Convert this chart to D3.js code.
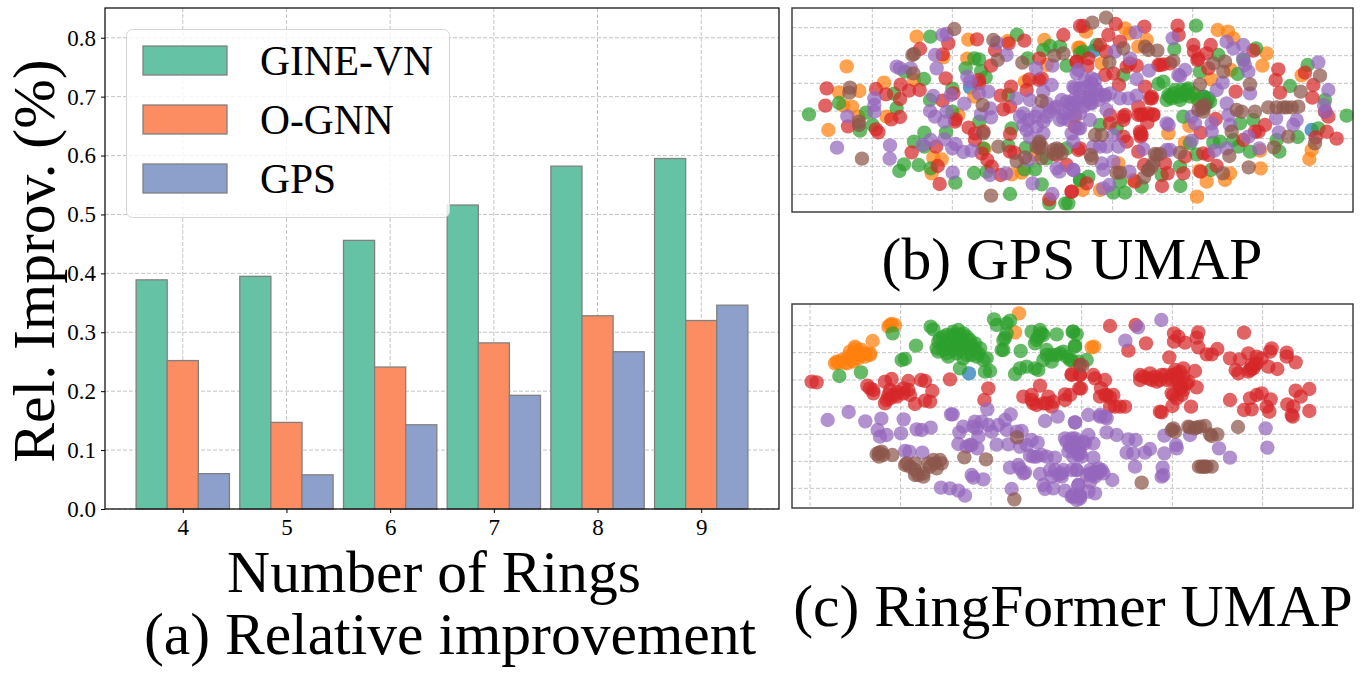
<!DOCTYPE html>
<html><head><meta charset="utf-8">
<script src="https://cdn.jsdelivr.net/npm/d3@7/dist/d3.min.js"></script>
<style>html,body{margin:0;padding:0;background:#fff}svg{display:block}text{font-family:"Liberation Serif",serif;fill:#000}</style>
</head><body><svg id="c" width="1362" height="674"></svg>
<script>
const rings=[4,5,6,7,8,9];
const gineVN=[.389,.395,.456,.516,.582,.595];
const oGNN=[.252,.147,.241,.282,.328,.320];
const gps=[.060,.058,.143,.193,.267,.346];
const seriesNames=["GINE-VN","O-GNN","GPS"];
const barColors=["#66c2a5","#fc8d62","#8da0cb"];
const yTicks=[0,.1,.2,.3,.4,.5,.6,.7,.8];
const classColors=["#1f77b4","#ff7f0e","#2ca02c","#d62728","#9467bd","#8c564b"];

// UMAP (b) GPS, embedding read-off units
const bBlue=[[540,262],[910,153],[1242,290],[1565,390]];
const bOrange=[[380,110],[535,119],[170,199],[147,277],[208,273],[282,248],[186,320],[160,317],[115,390],[290,350],[205,350],[460,172],[532,176],[372,240],[653,123],[763,120],[865,143],[705,245],[553,290],[505,345],[855,350],[430,473],[455,478],[425,520],[665,523],[695,518],[583,447],[735,465],[770,195],
[888,95],[870,143],[935,190],[1005,85],[1070,120],[1045,140],[1020,100],[1283,90],[1314,95],[1330,115],[1263,238],[1430,160],[1417,197],[1535,226],[1323,210],[1185,428],[1135,400],[1198,378],[1220,295],[1565,450],[1558,477],[1410,452],[1412,505],[1320,520],[1305,540],[1250,545],[1228,512],[1030,540],[930,570],[878,570],[1221,590],[985,490]];
const bGreen=[[421,110],[681,104],[57,343],[147,309],[210,392],[228,338],[248,375],[312,281],[320,324],[345,215],[402,237],[420,300],[487,266],[487,335],[403,398],[372,425],[403,440],[468,397],[342,493],[328,513],[386,495],[422,505],[496,548],[552,519],[590,515],[660,582],[755,553],[778,610],[826,610],[568,365],[527,205],[553,175],[567,178],[573,213],[587,232],[665,385],[655,437],[708,443],[735,508],[703,508],[780,138],[760,150],[810,140],[713,175],[830,197],[655,285],[870,540],[580,445],[770,475],[830,445],[870,160],
[1218,77],[1153,147],[920,135],[880,155],[1000,225],[1105,252],[1120,245],[1230,215],[1285,165],[1398,145],[1360,180],[1343,222],[1140,290],[1155,270],[1180,280],[1190,270],[1210,280],[1260,305],[1180,350],[1350,370],[1390,360],[1330,420],[1345,440],[1380,455],[1290,425],[1270,428],[1220,463],[1170,500],[1263,510],[1200,430],[1500,258],[1553,195],[1605,300],[1585,385],[1523,411],[1468,455],[1460,420],[1670,347],[930,375],[980,385],[870,540],[895,530],[970,578],[1005,578],[1055,560],[990,545],[1115,525],[1171,558],[900,290],[835,610],
[1130,300],[1145,295],[1150,280],[1165,290],[1175,270],[1185,285],[1195,265],[1200,290],[1225,300],[1240,290],[1250,310],[1255,295],[1135,285],[1170,300]];
const bRed=[[110,265],[106,317],[174,379],[258,267],[288,283],[330,297],[332,254],[357,272],[389,270],[265,397],[258,388],[304,358],[330,351],[390,147],[458,163],[475,130],[561,118],[467,235],[567,240],[567,250],[603,197],[656,130],[703,122],[820,105],[615,150],[663,260],[710,270],[718,238],[748,240],[755,235],[748,175],[632,287],[640,328],[660,320],[458,302],[490,280],[497,358],[495,365],[536,383],[555,400],[580,395],[660,402],[365,457],[438,440],[443,498],[449,552],[555,420],[575,460],[592,480],[605,500],[632,525],[660,455],[673,458],[845,575],[778,598],[800,465],[830,495],[865,450],[860,185],[870,78],
[880,78],[977,72],[955,105],[1063,80],[1163,77],[1166,105],[990,125],[930,135],[948,155],[895,175],[860,185],[892,198],[970,220],[945,225],[1020,190],[1040,197],[1105,195],[1120,193],[1065,260],[1085,290],[1080,295],[987,255],[1045,320],[1052,343],[1072,368],[1090,343],[1000,350],[960,370],[960,345],[855,380],[870,445],[1052,400],[1052,410],[1045,455],[1062,495],[1125,490],[1133,520],[1185,470],[1180,520],[1116,558],[1035,545],[890,550],[845,575],[1000,410],[1010,425],[1210,135],[1262,135],[1250,160],[1212,155],[1222,180],[1255,205],[1140,190],[1337,275],[1470,278],[1465,208],[1457,240],[1545,218],[1570,255],[1567,293],[1615,350],[1605,335],[1425,375],[1405,395],[1360,420],[1232,398],[1277,357],[1240,460],[1255,465],[1232,515],[1280,498],[1390,152],[1610,395],[1640,416],[1577,412],
[1045,345],[1060,345],[1075,340],[1090,345],[1085,295],[1000,360],[1005,345],[1055,405],[1050,395],[1010,200],[1110,195],[1225,175],[1395,395]];
const bPurple=[[457,105],[470,102],[320,200],[330,205],[362,205],[435,165],[440,205],[253,295],[253,315],[253,335],[172,349],[430,288],[482,285],[523,311],[532,230],[540,245],[595,275],[567,280],[420,333],[435,350],[463,365],[470,335],[573,343],[600,325],[603,352],[650,165],[620,128],[738,205],[787,197],[785,255],[760,275],[680,295],[720,300],[690,350],[700,375],[735,350],[760,365],[790,325],[830,305],[850,320],[810,360],[870,340],[825,340],[845,400],[850,425],[760,400],[720,412],[865,210],[855,265],[300,436],[299,476],[141,443],[398,435],[422,420],[463,418],[487,445],[497,432],[520,456],[545,452],[488,518],[600,525],[648,520],[728,550],[787,582],[800,505],[808,515],[850,510],[715,480],[865,385],
[1037,97],[1148,115],[975,155],[1020,175],[860,220],[905,235],[885,240],[1040,237],[1077,212],[1185,210],[1170,228],[1165,225],[1298,248],[1280,270],[1310,310],[1315,345],[1320,375],[1265,370],[1265,395],[1360,135],[1310,125],[1330,145],[1360,175],[1365,195],[1375,215],[1380,280],[1520,360],[1510,375],[1458,355],[1467,397],[1585,187],[1615,270],[1602,315],[1607,335],[1130,370],[1136,375],[1205,422],[1205,350],[1215,370],[1273,452],[1310,445],[1375,410],[1408,445],[1060,447],[1130,450],[1140,450],[870,385],[900,360],[950,330],[900,310],[945,285],[990,295],[1040,287],[1015,295],[850,260],[870,265],[840,310],[900,300],[915,240],[970,405],[930,440],[950,440],[985,440],[910,440],[935,490],[940,510],[970,485],[850,510],[958,555],[940,565],[1018,515],
[700,340],[715,360],[745,335],[770,350],[780,335],[800,320],[815,300],[840,330],[860,305],[880,300],[890,260],[905,250],[920,270],[930,285],[945,290],[960,280],[880,320],[895,300],[850,300],[835,360],[870,290],[900,275],[925,300],[855,345],[710,390],[740,380],[770,310],[820,355],[905,310],[915,265]];
const bBrown=[[493,87],[610,120],[372,162],[367,165],[370,220],[180,263],[178,278],[207,365],[207,375],[216,476],[578,315],[580,400],[625,440],[623,180],[697,188],[755,303],[793,167],[820,160],[603,587],[680,484],[748,432],[748,445],[755,475],[790,450],[808,450],[705,472],
[907,68],[948,53],[1000,145],[1065,140],[1102,152],[1075,150],[958,187],[1150,183],[1270,190],[1305,185],[1300,215],[1230,253],[1380,253],[1532,275],[1590,227],[1240,325],[1340,330],[1355,335],[1395,335],[1435,322],[1460,322],[1490,322],[1525,320],[1480,322],[1505,322],[1325,395],[1452,442],[1495,410],[1575,430],[1318,468],[1376,502],[1299,520],[915,405],[935,405],[905,475],[902,465],[1095,462],[1110,462],[1170,458],[1085,500],[1075,510],[1062,532],[990,518],[980,518],
[1225,330],[1245,315],[1235,320],[1240,335],[1075,510],[1090,490],[1100,465],[748,425],[755,440],[740,440],[800,445],[815,460],[790,462]];

// UMAP (c) RingFormer
const cBlue=[[537,220]];
const cOrange=[[687,40],[675,97],[248,123],[300,75],[315,75],[195,145],[215,150],[240,165],[145,188],[165,188],[185,180],[205,175],[225,170],[175,170],[190,160],[905,142],[912,140],
[140,185],[155,180],[170,190],[190,185],[210,165],[225,160],[195,140],[180,155],[240,160],[205,155],[135,190],[305,72],[295,80]];
const cGreen=[[422,80],[430,88],[612,58],[660,62],[650,70],[308,100],[378,137],[335,180],[345,177],[148,228],[213,217],[490,105],[510,105],[530,110],[470,105],[450,115],[440,145],[460,150],[480,130],[500,135],[520,135],[545,135],[570,145],[470,160],[500,160],[530,165],[560,170],[580,180],[510,205],[585,215],[600,213],[645,113],[640,150],[692,153],[675,222],[690,205],[710,200],[735,205],[745,210],[725,95],[750,90],[760,105],[740,120],[800,103],[848,95],[735,130],[855,140],[770,165],[800,165],[820,155],[840,180],[785,185],[620,75],[555,150],[850,95],[860,103],[855,137],[845,180],[865,185],[890,180],
[445,125],[460,110],[475,120],[490,95],[505,90],[520,100],[540,120],[555,130],[465,135],[495,115],[515,120],[535,145],[490,150],[510,150],[445,155],[475,170],[520,175],[545,165],[565,160],[590,175],[770,150],[785,165],[810,160],[830,170],[760,180],[755,100],[745,110],[640,120],[635,150],[650,100]];
const cRed=[[65,245],[80,247],[232,257],[250,270],[240,265],[285,245],[305,237],[355,243],[393,240],[405,243],[427,273],[355,270],[340,280],[320,275],[295,285],[285,310],[300,295],[375,312],[405,302],[420,305],[480,238],[595,265],[583,300],[750,257],[725,285],[700,290],[775,290],[790,305],[730,310],[760,310],[825,283],[825,300],[785,320],[845,225],[870,225],[868,265],[870,195],
[960,78],[1037,75],[1068,130],[1015,152],[1152,100],[1165,110],[1152,125],[1185,128],[1225,97],[1220,113],[1225,142],[1250,163],[1265,163],[1282,147],[1138,172],[1320,175],[1350,178],[1375,160],[1400,170],[1445,145],[1440,155],[1490,158],[1490,170],[1517,187],[1362,98],[1050,225],[1050,240],[1080,220],[1085,240],[1100,245],[1115,225],[1130,240],[1155,210],[1180,205],[1215,213],[1180,230],[1160,235],[1190,250],[1220,262],[1145,280],[1175,285],[1170,265],[1147,318],[1115,337],[1110,335],[1203,320],[1337,210],[1345,220],[1380,210],[1390,205],[1385,195],[1415,175],[1435,200],[1462,207],[845,222],[870,225],[910,225],[915,235],[945,240],[933,265],[873,265],[930,290],[950,285],[970,285],[960,320],[990,320],[1005,320],[840,285],[1320,300],[1380,295],[1400,285],[1415,280],[1442,298],[1430,320],[1438,335],[1385,328],[1362,330],[1492,313],[1510,320],[1505,345],[1508,350],[1558,333],[1517,272],[1532,290],[1558,267],
[320,290],[340,265],[360,285],[300,270],[250,280],[290,300],[315,285],[725,300],[740,315],[770,310],[1060,230],[1075,235],[1095,230],[1110,240],[1125,225],[1145,225],[1160,220],[1170,215],[1165,250],[1175,260],[1150,285],[1160,295],[1180,270],[1195,245],[1145,240],[1385,205],[1395,195],[1375,215],[1400,190],[945,285],[960,292],[975,320]];
const cPurple=[[113,360],[176,336],[226,364],[274,356],[341,358],[263,390],[270,410],[290,405],[333,400],[380,388],[395,390],[422,383],[483,343],[488,343],[592,328],[520,380],[508,397],[555,365],[575,365],[560,385],[595,375],[605,395],[625,375],[645,360],[662,343],[650,390],[565,410],[505,432],[530,440],[545,435],[562,445],[620,434],[655,433],[680,395],[695,393],[690,440],[710,435],[725,420],[743,428],[345,453],[358,455],[397,458],[765,363],[803,350],[855,367],[720,467],[740,470],[770,470],[795,473],[660,503],[685,495],[705,517],[750,522],[780,510],[820,510],[815,530],[545,525],[550,533],[580,538],[453,563],[480,565],[505,572],[525,587],[665,567],[760,555],[765,567],[790,565],[825,572],[845,590],[865,555],[825,415],[855,415],[845,440],[870,460],[860,510],[870,590],[785,530],
[1114,60],[1044,82],[1006,122],[895,345],[930,350],[950,355],[855,367],[950,397],[980,405],[1015,418],[1037,420],[1010,458],[1030,460],[1065,458],[1080,447],[1123,407],[1123,460],[1158,435],[1160,445],[1200,405],[1287,445],[1320,473],[1427,385],[1432,443],[1035,500],[1118,503],[1115,530],[1120,525],[967,540],[935,510],[915,515],[900,520],[865,555],[915,580],[870,595],[850,590],[900,545],[855,430],[880,425],[895,405],[910,430],[840,440],[865,465],[910,473],[860,510],[940,520],
[855,425],[870,440],[885,430],[860,455],[875,470],[900,510],[915,530],[925,505],[905,525],[890,525],[920,520],[930,515],[895,575],[870,585],[930,345],[945,350],[830,425],[845,415],[850,470],[835,455],[865,440],[550,380],[540,435],[730,470],[755,465],[690,505],[700,520],[795,510],[805,525],[815,520],[845,510],[850,585],[860,600]];
const cBrown=[[267,458],[267,470],[275,455],[307,465],[350,490],[375,490],[375,525],[400,530],[430,480],[450,480],[420,500],[440,505],[523,472],[588,478],[681,412],[673,598],
[877,197],[1055,548],[1145,390],[1155,395],[1195,380],[1215,385],[1230,380],[1245,378],[1265,408],[1282,403],[1344,381],[1227,500],[1245,500],[1265,500],[1240,500],[1150,385],
[360,500],[375,510],[385,525],[400,520],[415,490],[435,490],[455,490],[345,495],[260,462],[280,465],[1200,382],[1220,382],[1260,403],[1250,500],[1235,500]];

const svg=d3.select("#c");
// ---- Panel (a)
const frameA={l:105,r:779,t:8,b:509};
const xA=d3.scaleLinear().domain([3.25,9.75]).range([frameA.l,frameA.r]);
const yA=d3.scaleLinear().domain([0,.8505]).range([frameA.b,frameA.t]);
const gA=svg.append("g");
const gridStyle=s=>s.attr("stroke","#c4c4c4").attr("stroke-width",1).attr("stroke-dasharray","4,2").attr("fill","none");
gA.selectAll(".gx").data(rings).join("line").attr("x1",d=>xA(d)).attr("x2",d=>xA(d)).attr("y1",frameA.t).attr("y2",frameA.b).call(gridStyle);
gA.selectAll(".gy").data(yTicks).join("line").attr("x1",frameA.l).attr("x2",frameA.r).attr("y1",d=>yA(d)).attr("y2",d=>yA(d)).call(gridStyle);
const bw=0.3;
[gineVN,oGNN,gps].forEach((vals,s)=>{
  gA.append("g").selectAll("rect").data(vals).join("rect")
    .attr("x",(d,i)=>xA(rings[i]+(s-1.5)*bw)).attr("width",xA(bw)-xA(0))
    .attr("y",d=>yA(d)).attr("height",d=>yA(0)-yA(d))
    .attr("fill",barColors[s]).attr("stroke","#808080").attr("stroke-width",1.3);
});
const axB=gA.append("g").attr("transform",`translate(0,${frameA.b})`).call(d3.axisBottom(xA).tickValues(rings).tickFormat(d3.format("d")).tickSize(4).tickPadding(6));
const axL=gA.append("g").attr("transform",`translate(${frameA.l},0)`).call(d3.axisLeft(yA).tickValues(yTicks).tickFormat(d3.format(".1f")).tickSize(4).tickPadding(5));
[axB,axL].forEach(a=>{a.select(".domain").remove();a.selectAll("text").attr("font-family","Liberation Serif").attr("font-size",23);a.selectAll("line").attr("stroke","#000")});
gA.append("rect").attr("x",frameA.l).attr("y",frameA.t).attr("width",frameA.r-frameA.l).attr("height",frameA.b-frameA.t).attr("fill","none").attr("stroke","#000").attr("stroke-width",1.2);
// legend
const lg=svg.append("g");
lg.append("rect").attr("x",126.5).attr("y",29.5).attr("width",323).attr("height",188).attr("rx",6).attr("fill","#fff").attr("fill-opacity",.8).attr("stroke","#d6d6d6").attr("stroke-width",1);
const legY=d3.scalePoint().domain(seriesNames).range([60.5,178.5]);
seriesNames.forEach((n,i)=>{
  lg.append("rect").attr("x",143).attr("y",legY(n)-14.5).attr("width",84).attr("height",29).attr("fill",barColors[i]).attr("stroke","#808080").attr("stroke-width",1.3);
  lg.append("text").attr("x",260).attr("y",legY(n)+14.5).attr("font-size",41.5).text(n);
});
// labels
const label=(x,y,size,t,rot)=>svg.append("text").attr("text-anchor","middle").attr("font-size",size)
  .attr("transform",`translate(${x},${y})`+(rot?` rotate(${rot})`:"")).text(t);
label(54,261,59.6,"Rel. Improv. (%)",-90);
label(434,592,59.6,"Number of Rings");
label(450,654,59.6,"(a) Relative improvement");
label(1072,279,59.6,"(b) GPS UMAP");
label(1073,626,59.6,"(c) RingFormer UMAP");
// ---- UMAP panels
function umap(frame,yDomain,xGrid,yGrid,classes){
  const x=d3.scaleLinear().domain([6,1689]).range([frame.l,frame.r]);
  const y=d3.scaleLinear().domain(yDomain).range([frame.t,frame.b]);
  const g=svg.append("g");
  g.selectAll(".vx").data(xGrid).join("line").attr("x1",d=>x(d)).attr("x2",d=>x(d)).attr("y1",frame.t).attr("y2",frame.b).call(gridStyle);
  g.selectAll(".hy").data(yGrid).join("line").attr("x1",frame.l).attr("x2",frame.r).attr("y1",d=>y(d)).attr("y2",d=>y(d)).call(gridStyle);
  classes.forEach((pts,c)=>{
    g.append("g").selectAll("circle").data(pts).join("circle")
      .attr("cx",d=>x(d[0])).attr("cy",d=>y(d[1])).attr("r",7.2)
      .attr("fill",classColors[c]).attr("fill-opacity",.72);
  });
  g.append("rect").attr("x",frame.l).attr("y",frame.t).attr("width",frame.r-frame.l).attr("height",frame.b-frame.t).attr("fill","none").attr("stroke","#333").attr("stroke-width",1.4);
}
umap({l:792,r:1353,t:8,b:212},[24,636],[247,487,727,968,1208,1450],[83,167,250,333,416,499,583],[bBlue,bOrange,bGreen,bRed,bPurple,bBrown]);
umap({l:792,r:1353,t:304,b:508},[12,624],[60,332,603,875,1147,1418],[77,158,240,321,403,484,565],[cBlue,cOrange,cGreen,cRed,cPurple,cBrown]);
</script></body></html>
